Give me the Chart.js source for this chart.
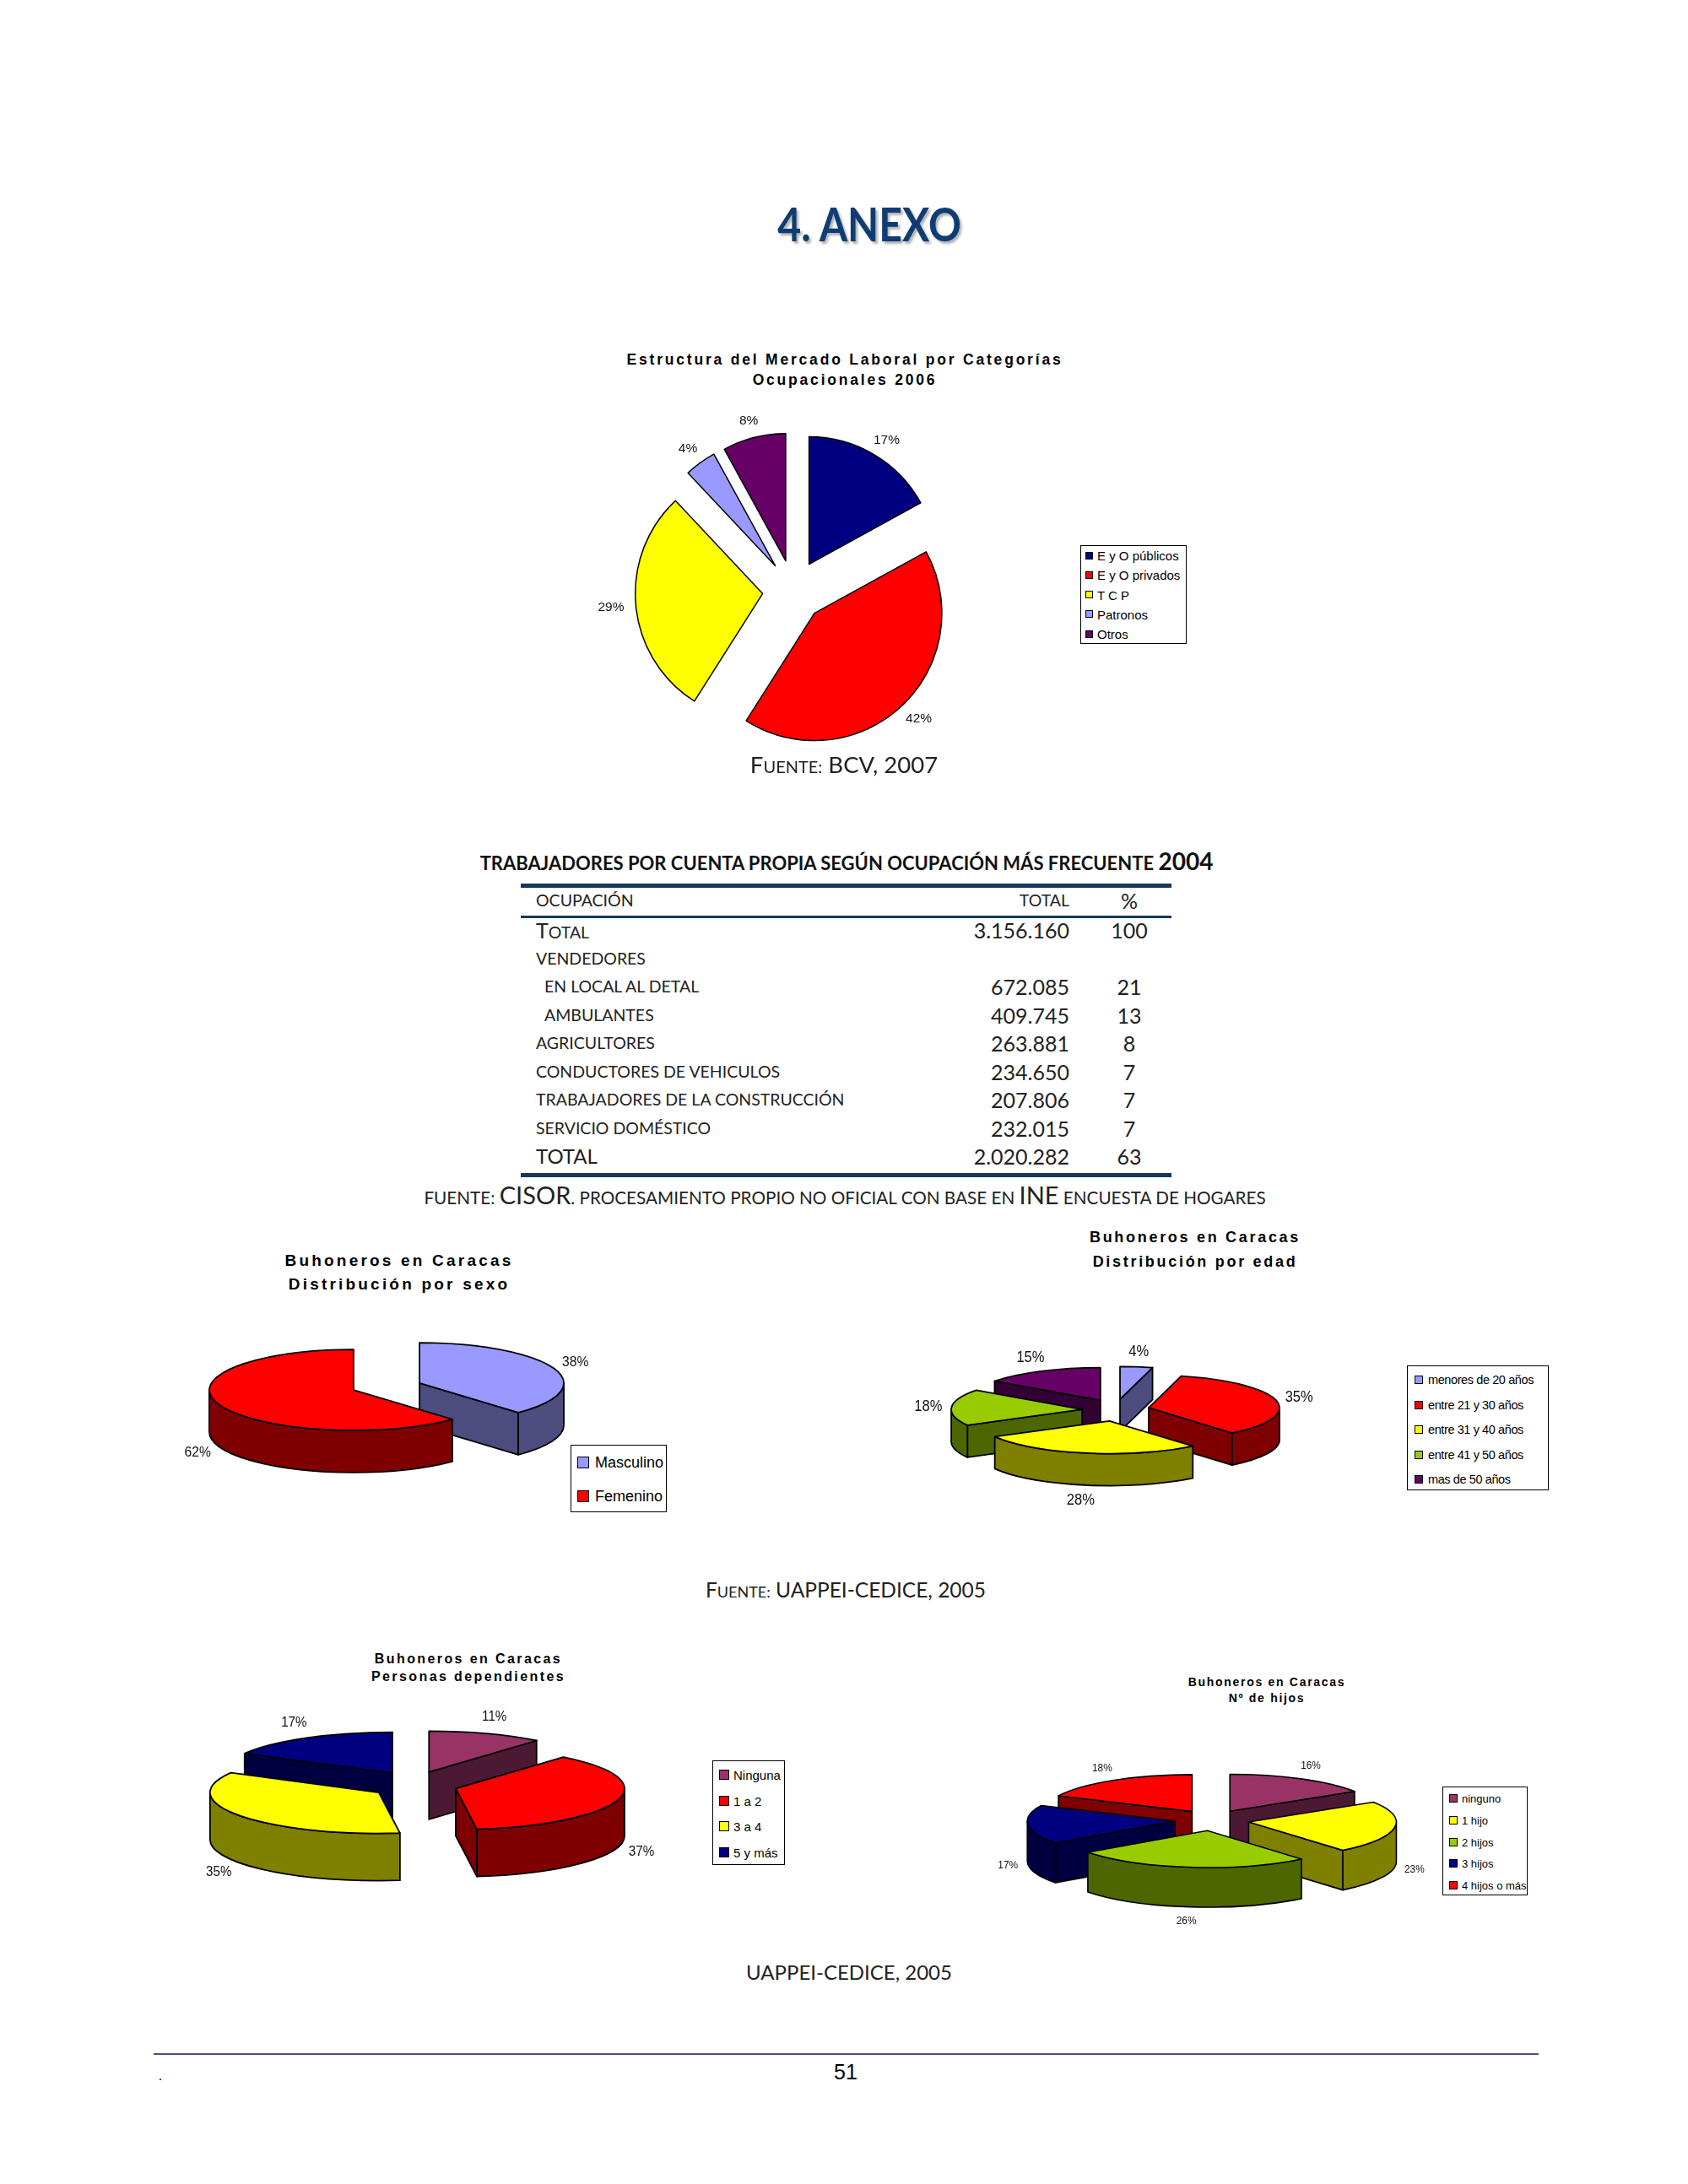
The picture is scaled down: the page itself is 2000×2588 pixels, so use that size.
<!DOCTYPE html>
<html lang="es">
<head>
  <meta charset="UTF-8" />
  <title>4. Anexo</title>
  <script src="https://cdn.jsdelivr.net/npm/chart.js"></script>
  <style>
    html, body { margin: 0; padding: 0; background: #fff; }
    body { width: 2000px; height: 2588px; position: relative; overflow: hidden; font-family: 'Liberation Sans', Arial, sans-serif; color: #000; }
    .c { position: absolute; transform: translate(-50%, -50%); white-space: nowrap; line-height: 1; }
    .cal { font-family: Lato, 'Open Sans', sans-serif; color: #222; }
    .box { position: absolute; }
    .ctitle { position: absolute; transform: translateX(-50%); text-align: center; font-weight: bold; white-space: nowrap; }
    .legend { position: absolute; border: 1px solid #000; background: #fff; box-sizing: border-box; z-index: 2; }
    .legend .item { position: absolute; white-space: nowrap; transform: translateY(-50%); line-height: 1; }
    .legend .sw { position: absolute; border: 1px solid #000; box-sizing: border-box; }
    .rule { position: absolute; background: #17365d; }
    .row { position: absolute; white-space: nowrap; line-height: 1; }
  </style>
</head>
<body>
  <div class="c cal" style="left:1030px;top:265px;font-size:56px;font-weight:bold;color:#0f3d73;text-shadow:3px 3px 3px rgba(0,0,0,.3);transform:translate(-50%,-50%) scaleX(.86)">4. ANEXO</div>

  <!-- grafico 1 -->
  <div class="ctitle" style="left:1001px;top:414px;font-size:17.5px;line-height:24px;letter-spacing:2.8px">Estructura del Mercado Laboral por Categorías<br>Ocupacionales 2006</div>
  <div class="box" style="left:680px;top:470px;width:520px;height:460px"><canvas id="mercadoChart"></canvas></div>
  <div class="legend" id="mercadoLegend" style="left:1280px;top:646px;width:126px;height:117px"></div>
  <div class="c cal" style="left:1000px;top:906px;font-size:27.5px">F<span style="font-size:20px">UENTE:</span> BCV, 2007</div>

  <!-- tabla -->
  <div class="c cal" style="left:1003px;top:1020px;font-size:22px;font-weight:bold;color:#111">TRABAJADORES POR CUENTA PROPIA SEGÚN OCUPACIÓN MÁS FRECUENTE <span style="font-size:28px">2004</span></div>
  <div class="rule" style="left:617px;top:1047px;width:771px;height:5px"></div>
  <div class="rule" style="left:617px;top:1085px;width:771px;height:3px"></div>
  <div class="rule" style="left:617px;top:1390px;width:771px;height:5px"></div>
  <div id="tabla"></div>
  <div class="c cal" style="left:1001px;top:1415px;font-size:20.7px">FUENTE: <span style="font-size:29px">CISOR</span>. PROCESAMIENTO PROPIO NO OFICIAL CON BASE EN <span style="font-size:29px">INE</span> ENCUESTA DE HOGARES</div>

  <!-- sexo -->
  <div class="ctitle" style="left:473px;top:1480px;font-size:19px;line-height:28px;letter-spacing:3.2px">Buhoneros en Caracas<br>Distribución por sexo</div>
  <div class="box" style="left:178px;top:1523px;width:560px;height:240px"><canvas id="sexoChart"></canvas></div>
  <div class="legend" id="sexoLegend" style="left:676px;top:1712px;width:114px;height:80px"></div>

  <!-- edad -->
  <div class="ctitle" style="left:1416px;top:1452px;font-size:18px;line-height:29px;letter-spacing:2.7px">Buhoneros en Caracas<br>Distribución por edad</div>
  <div class="box" style="left:1052px;top:1531px;width:540px;height:280px"><canvas id="edadChart"></canvas></div>
  <div class="legend" id="edadLegend" style="left:1667px;top:1618px;width:168px;height:148px"></div>

  <div class="c cal" style="left:1002px;top:1884px;font-size:24.5px">F<span style="font-size:18px">UENTE:</span> UAPPEI-CEDICE, 2005</div>

  <!-- dependientes -->
  <div class="ctitle" style="left:555px;top:1955px;font-size:16px;line-height:21px;letter-spacing:2.4px">Buhoneros en Caracas<br>Personas dependientes</div>
  <div class="box" style="left:181px;top:1975px;width:620px;height:280px"><canvas id="depChart"></canvas></div>
  <div class="legend" id="depLegend" style="left:844px;top:2086px;width:86px;height:124px"></div>

  <!-- hijos -->
  <div class="ctitle" style="left:1501px;top:1984px;font-size:14px;line-height:19px;letter-spacing:1.7px">Buhoneros en Caracas<br>Nº de hijos</div>
  <div class="box" style="left:1146px;top:2017px;width:580px;height:280px"><canvas id="hijosChart"></canvas></div>
  <div class="legend" id="hijosLegend" style="left:1709px;top:2117px;width:101px;height:129px"></div>

  <div class="c cal" style="left:1006px;top:2337px;font-size:24px">UAPPEI-CEDICE, 2005</div>

  <div style="position:absolute;left:182px;top:2433px;width:1641px;height:2px;background:#4d4d8c"></div>
  <div class="c" style="left:1002px;top:2455px;font-size:25px">51</div>
  <div class="c" style="left:190px;top:2460px;font-size:16px">.</div>

  <script>
    // datos
    const mercadoLabels = ['E y O públicos', 'E y O privados', 'T C P', 'Patronos', 'Otros'];
    const mercadoValues = [17, 42, 29, 4, 8];
    const sexoLabels = ['Masculino', 'Femenino'];
    const sexoValues = [38, 62];
    const edadLabels = ['menores de 20 años', 'entre 21 y 30 años', 'entre 31 y 40 años', 'entre 41 y 50 años', 'mas de 50 años'];
    const edadValues = [4, 35, 28, 18, 15];
    const depLabels = ['Ninguna', '1 a 2', '3 a 4', '5 y más'];
    const depValues = [11, 37, 35, 17];
    const hijosLabels = ['ninguno', '1 hijo', '2 hijos', '3 hijos', '4 hijos o más'];
    const hijosValues = [16, 23, 26, 17, 18];

    const tablaOcupacion = ['Total', 'VENDEDORES', 'EN LOCAL AL DETAL', 'AMBULANTES', 'AGRICULTORES', 'CONDUCTORES DE VEHICULOS', 'TRABAJADORES DE LA CONSTRUCCIÓN', 'SERVICIO DOMÉSTICO', 'TOTAL'];
    const tablaTotal = ['3.156.160', '', '672.085', '409.745', '263.881', '234.650', '207.806', '232.015', '2.020.282'];
    const tablaPct = ['100', '', '21', '13', '8', '7', '7', '7', '63'];

    // colores
    const mercadoColors = ['#000080', '#FF0000', '#FFFF00', '#9999FF', '#660066'];
    const sexoColors = ['#9999FF', '#FF0000'];
    const edadColors = ['#9999FF', '#FF0000', '#FFFF00', '#99CC00', '#660066'];
    const depColors = ['#993366', '#FF0000', '#FFFF00', '#000080'];
    const hijosColors = ['#993366', '#FFFF00', '#99CC00', '#000080', '#FF0000'];

    function shade(hex) {
      const n = parseInt(hex.slice(1), 16);
      return `rgb(${(n >> 16) >> 1},${((n >> 8) & 255) >> 1},${(n & 255) >> 1})`;
    }

    // pie "3D" con porciones separadas: paredes, caras y etiquetas
    const pie3d = {
      id: 'pie3d',
      beforeDatasetDraw(chart, args, o) {
        const ctx = chart.ctx;
        const k = o.tilt, D = o.depth;
        const colors = chart.data.datasets[0].backgroundColor;
        const vals = chart.data.datasets[0].data;
        const parts = args.meta.data.map((arc, i) => {
          const p = arc.getProps(['x', 'y', 'startAngle', 'endAngle', 'outerRadius'], true);
          const mid = (p.startAngle + p.endAngle) / 2;
          return {
            arc, i, a0: p.startAngle, a1: p.endAngle, R: p.outerRadius, mid,
            X: p.x + Math.cos(mid) * o.explodeX, Y: p.y + Math.sin(mid) * o.explodeY
          };
        });
        ctx.save();
        ctx.lineWidth = o.lineWidth;
        ctx.strokeStyle = '#000';
        ctx.lineJoin = 'round';
        if (D > 0) {
          parts.slice().sort((a, b) => Math.sin(a.mid) - Math.sin(b.mid)).forEach(s => {
            ctx.fillStyle = shade(colors[s.i]);
            const face = a => {
              const ex = s.X + s.R * Math.cos(a), ey = s.Y + k * s.R * Math.sin(a);
              ctx.beginPath();
              ctx.moveTo(s.X, s.Y);
              ctx.lineTo(ex, ey);
              ctx.lineTo(ex, ey + D);
              ctx.lineTo(s.X, s.Y + D);
              ctx.closePath();
              ctx.fill();
              ctx.stroke();
            };
            if (Math.cos(s.a0) < -1e-6) face(s.a0);
            if (Math.cos(s.a1) > 1e-6) face(s.a1);
            const b0 = Math.max(s.a0, 0), b1 = Math.min(s.a1, Math.PI);
            if (b1 > b0) {
              ctx.beginPath();
              ctx.ellipse(s.X, s.Y, s.R, k * s.R, 0, b0, b1);
              ctx.lineTo(s.X + s.R * Math.cos(b1), s.Y + k * s.R * Math.sin(b1) + D);
              ctx.ellipse(s.X, s.Y + D, s.R, k * s.R, 0, b1, b0, true);
              ctx.closePath();
              ctx.fill();
              ctx.stroke();
            }
          });
        }
        parts.forEach(s => {
          ctx.save();
          ctx.translate(s.X, s.Y);
          ctx.scale(1, k);
          ctx.translate(-s.arc.x, -s.arc.y);
          s.arc.draw(ctx);
          ctx.restore();
          ctx.beginPath();
          ctx.moveTo(s.X, s.Y);
          ctx.ellipse(s.X, s.Y, s.R, k * s.R, 0, s.a0, s.a1);
          ctx.closePath();
          ctx.stroke();
        });
        ctx.fillStyle = '#111';
        ctx.font = o.fontSize + 'px "Liberation Sans", Arial, sans-serif';
        ctx.textAlign = 'center';
        ctx.textBaseline = 'middle';
        parts.forEach(s => {
          const c = Math.cos(s.mid), sn = Math.sin(s.mid);
          const txt = vals[s.i] + '%';
          const w = ctx.measureText(txt).width * o.textScale;
          const h = o.fontSize * 0.8;
          const x = s.X + (s.R + o.gap) * c + c * w / 2;
          const y = s.Y + (k * s.R + o.gap) * sn + (sn > 0 ? D : 0) + sn * h / 2;
          ctx.save();
          ctx.translate(x, y);
          ctx.scale(o.textScale, 1);
          ctx.fillText(txt, 0, 0);
          ctx.restore();
        });
        ctx.restore();
        return false;
      }
    };

    function makePie(id, labels, values, colors, o) {
      return new Chart(document.getElementById(id), {
        type: 'pie',
        data: { labels: labels, datasets: [{ data: values, backgroundColor: colors, borderWidth: 0, radius: o.r }] },
        options: {
          responsive: true,
          maintainAspectRatio: false,
          animation: false,
          events: [],
          radius: o.r,
          layout: { padding: 0 },
          plugins: { legend: { display: false }, tooltip: { enabled: false }, pie3d: o }
        },
        plugins: [pie3d]
      });
    }

    function makeLegend(id, labels, colors, L) {
      const box = document.getElementById(id);
      labels.forEach((lab, i) => {
        const y = L.first + i * L.step;
        const sw = document.createElement('div');
        sw.className = 'sw';
        sw.style.cssText = `left:${L.swX}px;top:${y - L.sw / 2}px;width:${L.sw}px;height:${L.sw}px;background:${colors[i]}`;
        box.appendChild(sw);
        const t = document.createElement('div');
        t.className = 'item';
        t.style.cssText = `left:${L.textX}px;top:${y}px;font-size:${L.font}px;letter-spacing:${L.ls || 0}px`;
        t.textContent = lab;
        box.appendChild(t);
      });
    }

    makePie('mercadoChart', mercadoLabels, mercadoValues, mercadoColors,
      { r: 151, tilt: 1, depth: 0, explodeX: 36.5, explodeY: 36.5, lineWidth: 1.5, fontSize: 15.5, textScale: 1, gap: 14 });
    makePie('sexoChart', sexoLabels, sexoValues, sexoColors,
      { r: 171, tilt: 0.28, depth: 50, explodeX: 42, explodeY: 11, lineWidth: 1.8, fontSize: 17, textScale: 0.92, gap: 12 });
    makePie('edadChart', edadLabels, edadValues, edadColors,
      { r: 155, tilt: 0.25, depth: 38, explodeX: 40, explodeY: 13, lineWidth: 1.8, fontSize: 18, textScale: 0.92, gap: 11 });
    makePie('depChart', depLabels, depValues, depColors,
      { r: 200, tilt: 0.243, depth: 56, explodeX: 51, explodeY: 16, lineWidth: 1.8, fontSize: 16, textScale: 0.95, gap: 14 });
    makePie('hijosChart', hijosLabels, hijosValues, hijosColors,
      { r: 175, tilt: 0.25, depth: 47, explodeX: 44, explodeY: 12.3, lineWidth: 1.6, fontSize: 12.5, textScale: 0.95, gap: 12 });

    makeLegend('mercadoLegend', mercadoLabels, mercadoColors, { first: 11, step: 23.3, sw: 9, swX: 5, textX: 19, font: 15 });
    makeLegend('sexoLegend', sexoLabels, sexoColors, { first: 20, step: 40, sw: 14, swX: 7, textX: 28, font: 18 });
    makeLegend('edadLegend', edadLabels, edadColors, { first: 16, step: 29.5, sw: 10, swX: 8, textX: 24, font: 14.5, ls: -0.4 });
    makeLegend('depLegend', depLabels, depColors, { first: 16, step: 30.5, sw: 12, swX: 7, textX: 24, font: 15 });
    makeLegend('hijosLegend', hijosLabels, hijosColors, { first: 13, step: 25.8, sw: 10, swX: 7, textX: 22, font: 13 });

    // tabla
    const tabla = document.getElementById('tabla');
    function addRow(html, style) {
      const d = document.createElement('div');
      d.className = 'row cal';
      d.style.cssText = style;
      d.innerHTML = html;
      tabla.appendChild(d);
    }
    addRow('OCUPACIÓN', 'left:635px;top:1067px;font-size:19.5px;transform:translateY(-50%)');
    addRow('TOTAL', 'left:1267px;top:1067px;font-size:19.5px;transform:translate(-100%,-50%)');
    addRow('%', 'left:1338px;top:1067px;font-size:25px;transform:translate(-50%,-50%)');
    tablaOcupacion.forEach((lab, i) => {
      const y = 1102 + i * 33.5;
      let html = lab, size = 19.5;
      if (i === 0) html = lab[0] + '<span style="font-size:19.5px">' + lab.slice(1).toUpperCase() + '</span>', size = 25;
      if (i === tablaOcupacion.length - 1) size = 24;
      const x = (i === 2 || i === 3) ? 645 : 635;
      addRow(html, `left:${x}px;top:${y}px;font-size:${size}px;transform:translateY(-50%)`);
      if (tablaTotal[i]) addRow(tablaTotal[i], `left:1267px;top:${y}px;font-size:25px;transform:translate(-100%,-50%)`);
      if (tablaPct[i]) addRow(tablaPct[i], `left:1338px;top:${y}px;font-size:25px;transform:translate(-50%,-50%)`);
    });
  </script>
</body>
</html>
